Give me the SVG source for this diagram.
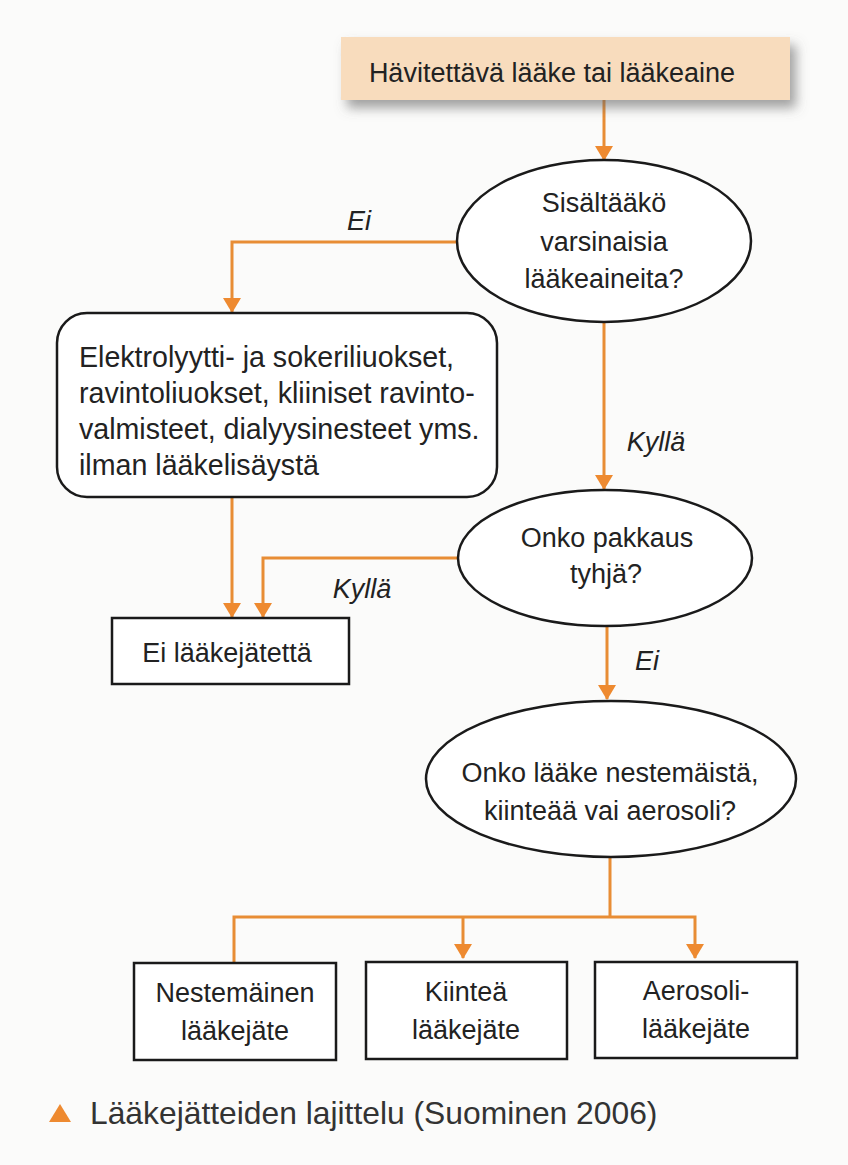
<svg xmlns="http://www.w3.org/2000/svg" width="848" height="1165" viewBox="0 0 848 1165">
<defs>
<style>
.t{font-family:"Liberation Sans",Arial,sans-serif;font-size:27px;fill:#222}
.b{font-size:28.6px}
.c{text-anchor:middle}
.i{font-style:italic}
.box{fill:#fff;stroke:#1a1a1a;stroke-width:2.5}
.ln{fill:none;stroke:#e88d35;stroke-width:3}
.cap{font-family:"Liberation Sans",Arial,sans-serif;font-size:31.8px;fill:#333}
</style>
<filter id="sh" x="-10%" y="-30%" width="125%" height="180%">
<feDropShadow dx="6" dy="8" stdDeviation="6" flood-color="#666" flood-opacity="0.6"/>
</filter>
</defs>
<rect width="848" height="1165" fill="#fbfbfa"/>

<g id="connectors">
<path class="ln" d="M604,100 V160"/>
<path class="ln" d="M457,242 H232 V312"/>
<path class="ln" d="M604,323 V489"/>
<path class="ln" d="M232,497 V617"/>
<path class="ln" d="M458,558 H263 V617"/>
<path class="ln" d="M607,627 V699"/>
<path class="ln" d="M610,857 V917"/>
<path class="ln" d="M234,963 V917 H695 V958"/>
<path class="ln" d="M463,917 V958"/>
<g fill="#ee8a30">
<polygon points="595,146 613,146 604,161"/>
<polygon points="223,298 241,298 232,313"/>
<polygon points="595,475 613,475 604,490"/>
<polygon points="223,603 241,603 232,618"/>
<polygon points="254,603 272,603 263,618"/>
<polygon points="598,685 616,685 607,700"/>
<polygon points="454,944 472,944 463,959"/>
<polygon points="686,944 704,944 695,959"/>
</g>
<text class="t i" x="359" y="230" text-anchor="middle">Ei</text>
<text class="t i" x="656" y="451" text-anchor="middle">Kyllä</text>
<text class="t i" x="362" y="598" text-anchor="middle">Kyllä</text>
<text class="t i" x="647" y="670" text-anchor="middle">Ei</text>
</g>

<g id="n-start">
<rect x="341" y="37" width="449" height="63" fill="#f8dcbd" filter="url(#sh)"/>
<text class="t c" x="552" y="82">Hävitettävä lääke tai lääkeaine</text>
</g>

<g id="n-q1">
<ellipse class="box" cx="604" cy="241" rx="147" ry="81"/>
<text class="t c" x="604" y="212">Sisältääkö</text>
<text class="t c" x="604" y="251">varsinaisia</text>
<text class="t c" x="604" y="288">lääkeaineita?</text>
</g>

<g id="n-solutions">
<rect class="box" x="57" y="313" width="440" height="184" rx="30"/>
<text class="t b" x="79" y="367">Elektrolyytti- ja sokeriliuokset,</text>
<text class="t b" x="79" y="403">ravintoliuokset, kliiniset ravinto-</text>
<text class="t b" x="79" y="439">valmisteet, dialyysinesteet yms.</text>
<text class="t b" x="79" y="475">ilman lääkelisäystä</text>
</g>

<g id="n-q2">
<ellipse class="box" cx="605" cy="558" rx="147" ry="68"/>
<text class="t c" x="607" y="547">Onko pakkaus</text>
<text class="t c" x="606" y="583">tyhjä?</text>
</g>

<g id="n-nowaste">
<rect class="box" x="112" y="618" width="237" height="66"/>
<text class="t c" x="227" y="662">Ei lääkejätettä</text>
</g>

<g id="n-q3">
<ellipse class="box" cx="611" cy="779" rx="185" ry="78"/>
<text class="t c" x="610" y="782">Onko lääke nestemäistä,</text>
<text class="t c" x="610" y="820">kiinteää vai aerosoli?</text>
</g>

<g id="n-liquid">
<rect class="box" x="134" y="963" width="202" height="97"/>
<text class="t c" x="235" y="1002">Nestemäinen</text>
<text class="t c" x="235" y="1040">lääkejäte</text>
</g>

<g id="n-solid">
<rect class="box" x="366" y="962" width="201" height="97"/>
<text class="t c" x="466" y="1001">Kiinteä</text>
<text class="t c" x="466" y="1039">lääkejäte</text>
</g>

<g id="n-aerosol">
<rect class="box" x="595" y="962" width="202" height="96"/>
<text class="t c" x="696" y="1000">Aerosoli-</text>
<text class="t c" x="696" y="1038">lääkejäte</text>
</g>

<g id="caption">
<polygon points="49,1122 71,1122 60,1104" fill="#ee8a30"/>
<text class="cap" x="90" y="1124">Lääkejätteiden lajittelu (Suominen 2006)</text>
</g>
</svg>
